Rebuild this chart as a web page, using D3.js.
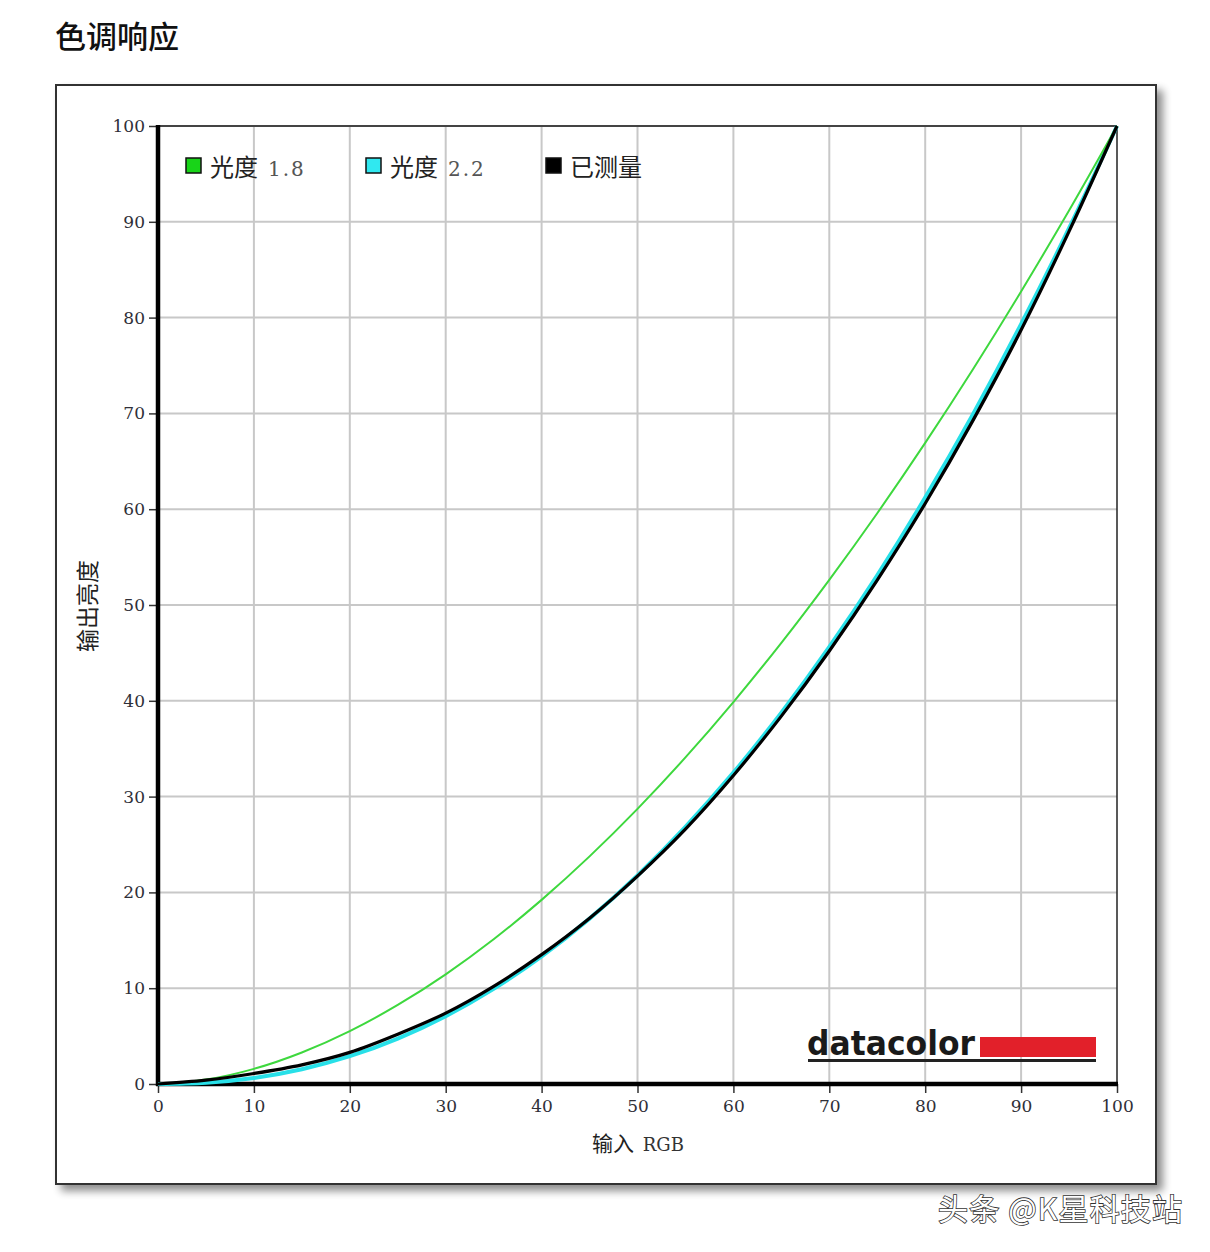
<!DOCTYPE html>
<html><head><meta charset="utf-8">
<script src="https://cdn.jsdelivr.net/npm/d3@7"></script>
<style>body{margin:0;background:#fff;}svg{display:block;}</style>
</head><body>
<svg id="c" width="1210" height="1252"></svg>
<script>
const inputs = [0,5,10,15,20,25,30,35,40,45,50,55,60,65,70,75,80,85,90,95,100];
const gamma18 = [0,0.46,1.58,3.29,5.52,8.25,11.45,15.11,19.22,23.76,28.72,34.09,39.87,46.05,52.63,59.58,66.92,74.64,82.73,91.18,100];
const gamma22 = [0,0.14,0.63,1.54,2.90,4.74,7.08,9.93,13.32,17.26,21.76,26.84,32.50,38.76,45.63,53.10,61.21,69.94,79.31,89.33,100];
const measured = [0,0.4,1.1,2.0,3.3,5.2,7.4,10.2,13.5,17.3,21.7,26.6,32.2,38.4,45.2,52.6,60.6,69.3,78.7,89.0,100];
const tickValues = [0,10,20,30,40,50,60,70,80,90,100];
const legendItems = ["光度 1.8","光度 2.2","已测量"];

const svg = d3.select("#c");
const defs = svg.append("defs");
const f = defs.append("filter").attr("id","sh").attr("x","-5%").attr("y","-5%").attr("width","115%").attr("height","115%");
f.append("feGaussianBlur").attr("in","SourceAlpha").attr("stdDeviation",4);
f.append("feOffset").attr("dx",6).attr("dy",6).attr("result","b");
f.append("feComponentTransfer").append("feFuncA").attr("type","linear").attr("slope",0.45);
const fm = f.append("feMerge"); fm.append("feMergeNode"); fm.append("feMergeNode").attr("in","SourceGraphic");

// title
svg.append("text").attr("x",55).attr("y",48).attr("font-family","'Noto Sans CJK SC'").attr("font-size",31).attr("font-weight",500).attr("fill","#111").text("色调响应");

// frame
svg.append("rect").attr("x",56).attr("y",85).attr("width",1100).attr("height",1099).attr("fill","#fff").attr("stroke","#333").attr("stroke-width",2).attr("filter","url(#sh)");

const x = d3.scaleLinear().domain([0,100]).range([158,1117]);
const y = d3.scaleLinear().domain([0,100]).range([1084,126]);

// grid
const g = svg.append("g");
g.selectAll("line.v").data(tickValues.slice(1,-1)).join("line").attr("x1",d=>x(d)).attr("x2",d=>x(d)).attr("y1",y(100)).attr("y2",y(0)).attr("stroke","#c8c8c8").attr("stroke-width",2);
g.selectAll("line.h").data(tickValues.slice(1,-1)).join("line").attr("y1",d=>y(d)).attr("y2",d=>y(d)).attr("x1",x(0)).attr("x2",x(100)).attr("stroke","#c8c8c8").attr("stroke-width",2);
g.append("line").attr("x1",x(0)).attr("x2",x(100)).attr("y1",y(100)).attr("y2",y(100)).attr("stroke","#444").attr("stroke-width",2);
g.append("line").attr("x1",x(100)).attr("x2",x(100)).attr("y1",y(100)).attr("y2",y(0)).attr("stroke","#222").attr("stroke-width",1.5);

// axes
const font = "'DejaVu Serif','Liberation Serif',serif";
const ya = svg.append("g").attr("transform",`translate(${x(0)},0)`).call(d3.axisLeft(y).tickValues(tickValues).tickSize(9).tickPadding(4));
const xa = svg.append("g").attr("transform",`translate(0,${y(0)})`).call(d3.axisBottom(x).tickValues(tickValues).tickSize(9).tickPadding(7));
[ya,xa].forEach(a=>{
  a.select(".domain").remove();
  a.selectAll(".tick line").attr("stroke","#333").attr("stroke-width",1.5);
  a.selectAll(".tick text").attr("font-family",font).attr("font-size",17).attr("fill","#2f2f38");
});
svg.append("line").attr("x1",x(0)).attr("x2",x(0)).attr("y1",y(100)-1).attr("y2",y(0)+2).attr("stroke","#000").attr("stroke-width",4.5);
svg.append("line").attr("x1",x(0)-2).attr("x2",x(100)+1).attr("y1",y(0)).attr("y2",y(0)).attr("stroke","#000").attr("stroke-width",4.5);

// axis titles
svg.append("text").attr("transform","translate(96,606) rotate(-90)").attr("text-anchor","middle").attr("font-family","'Noto Sans CJK SC'").attr("font-size",23).attr("fill","#222").text("输出亮度");
svg.append("text").attr("x",638).attr("y",1151).attr("text-anchor","middle").attr("font-family","'Noto Sans CJK SC'").attr("font-size",21).attr("fill","#222")
  .call(t=>{t.append("tspan").text("输入 ");t.append("tspan").attr("dx",4).attr("font-family",font).attr("font-size",18).attr("fill","#333").text("RGB");});

// datacolor logo
svg.append("text").attr("x",807).attr("y",1055).attr("font-family","'DejaVu Sans','Liberation Sans',sans-serif").attr("font-weight","bold").attr("font-size",34).attr("textLength",168).attr("lengthAdjust","spacingAndGlyphs").attr("fill","#1a1a1a").text("datacolor");
svg.append("rect").attr("x",980).attr("y",1037).attr("width",116).attr("height",20).attr("fill","#e2202a");
svg.append("rect").attr("x",808).attr("y",1059).attr("width",288).attr("height",3).attr("fill","#222");

// curves
const line = d3.line().x((d,i)=>x(inputs[i])).y(d=>y(d)).curve(d3.curveMonotoneX);
svg.append("path").datum(gamma22).attr("d",line).attr("fill","none").attr("stroke","#28e0e8").attr("stroke-width",4);
svg.append("path").datum(gamma18).attr("d",line).attr("fill","none").attr("stroke","#3ed83e").attr("stroke-width",2);
svg.append("path").datum(measured).attr("d",line).attr("fill","none").attr("stroke","#000").attr("stroke-width",3.2);

// legend
const legColors = ["#18d418","#30e8f0","#000"];
const legX = [186,366,546];
legendItems.forEach((t,i)=>{
  svg.append("rect").attr("x",legX[i]).attr("y",158).attr("width",15).attr("height",15).attr("fill",legColors[i]).attr("stroke","#111").attr("stroke-width",1.5);
  const parts = t.split(" ");
  const tx = svg.append("text").attr("x",legX[i]+24).attr("y",176).attr("font-family","'Noto Sans CJK SC'").attr("font-size",24).attr("fill","#222");
  tx.append("tspan").text(parts[0]);
  if(parts[1]) tx.append("tspan").attr("dx",10).attr("font-family",font).attr("font-size",20).attr("fill","#555").attr("letter-spacing",2).text(parts[1]);
});

// watermark
svg.append("text").attr("x",938).attr("y",1220).attr("font-family","'Noto Sans CJK SC'").attr("font-size",30).attr("fill","#fff").attr("stroke","#333").attr("stroke-width",1.6).attr("paint-order","stroke").attr("textLength",244).text("头条 @K星科技站");
</script>
</body></html>
